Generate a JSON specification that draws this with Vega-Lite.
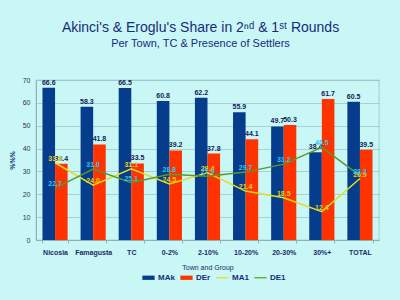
{
  "$schema": "https://vega.github.io/schema/vega-lite/v6.json",
  "width": 343,
  "height": 160,
  "autosize": "none",
  "padding": {"left": 36, "top": 80, "right": 21, "bottom": 60},
  "background": "#c8f7f6",
  "title": {
    "text": "Akinci's & Eroglu's Share in 2ⁿᵈ & 1ˢᵗ Rounds",
    "subtitle": "Per Town, TC & Presence of Settlers",
    "anchor": "middle",
    "frame": "group",
    "dx": -7,
    "offset": 27,
    "font": "Liberation Sans",
    "fontSize": 14,
    "fontWeight": "normal",
    "color": "#1a2a7a",
    "subtitleFont": "Liberation Sans",
    "subtitleFontSize": 11,
    "subtitleColor": "#1a2a7a",
    "subtitlePadding": 3
  },
  "config": {
    "view": {"stroke": "#8fb0b8", "strokeWidth": 0.6},
    "font": "Liberation Sans",
    "axis": {"labelFont": "Liberation Sans", "titleFont": "Liberation Sans"}
  },
  "data": {
    "values": [
      {"g": "Nicosia", "s": "MAk", "v": 66.6},
      {"g": "Famagusta", "s": "MAk", "v": 58.3},
      {"g": "TC", "s": "MAk", "v": 66.5},
      {"g": "0-2%", "s": "MAk", "v": 60.8},
      {"g": "2-10%", "s": "MAk", "v": 62.2},
      {"g": "10-20%", "s": "MAk", "v": 55.9},
      {"g": "20-30%", "s": "MAk", "v": 49.7},
      {"g": "30%+", "s": "MAk", "v": 38.4},
      {"g": "TOTAL", "s": "MAk", "v": 60.5},
      {"g": "Nicosia", "s": "DEr", "v": 33.4},
      {"g": "Famagusta", "s": "DEr", "v": 41.8},
      {"g": "TC", "s": "DEr", "v": 33.5},
      {"g": "0-2%", "s": "DEr", "v": 39.2},
      {"g": "2-10%", "s": "DEr", "v": 37.8},
      {"g": "10-20%", "s": "DEr", "v": 44.1},
      {"g": "20-30%", "s": "DEr", "v": 50.3},
      {"g": "30%+", "s": "DEr", "v": 61.7},
      {"g": "TOTAL", "s": "DEr", "v": 39.5},
      {"g": "Nicosia", "s": "MA1", "v": 33.8},
      {"g": "Famagusta", "s": "MA1", "v": 24.0},
      {"g": "TC", "s": "MA1", "v": 31.1},
      {"g": "0-2%", "s": "MA1", "v": 24.5},
      {"g": "2-10%", "s": "MA1", "v": 29.4},
      {"g": "10-20%", "s": "MA1", "v": 21.4},
      {"g": "20-30%", "s": "MA1", "v": 18.5},
      {"g": "30%+", "s": "MA1", "v": 12.4},
      {"g": "TOTAL", "s": "MA1", "v": 26.9},
      {"g": "Nicosia", "s": "DE1", "v": 22.7},
      {"g": "Famagusta", "s": "DE1", "v": 31.0},
      {"g": "TC", "s": "DE1", "v": 25.1},
      {"g": "0-2%", "s": "DE1", "v": 28.8},
      {"g": "2-10%", "s": "DE1", "v": 27.9},
      {"g": "10-20%", "s": "DE1", "v": 29.7},
      {"g": "20-30%", "s": "DE1", "v": 33.2},
      {"g": "30%+", "s": "DE1", "v": 40.5},
      {"g": "TOTAL", "s": "DE1", "v": 28.2}
    ]
  },
  "encoding": {
    "x": {
      "field": "g",
      "type": "nominal",
      "sort": ["Nicosia", "Famagusta", "TC", "0-2%", "2-10%", "10-20%", "20-30%", "30%+", "TOTAL"],
      "scale": {"paddingInner": 0.34, "paddingOuter": 0.17},
      "axis": {
        "title": "Town and Group",
        "titleFontSize": 7,
        "titleFontWeight": "normal",
        "titleColor": "#1a2a6a",
        "titlePadding": 8,
        "labelAngle": 0,
        "labelFontSize": 7,
        "labelFontWeight": "bold",
        "labelColor": "#1a2a6a",
        "labelPadding": 5,
        "tickBand": "extent",
        "tickSize": 3,
        "tickColor": "#8fb0b8",
        "domainColor": "#8fb0b8",
        "grid": false
      }
    },
    "y": {
      "field": "v",
      "type": "quantitative",
      "scale": {"domain": [0, 70], "nice": false},
      "axis": {
        "title": "%%%",
        "titleFontSize": 7,
        "titleFontWeight": "bold",
        "titleColor": "#1a2a6a",
        "titlePadding": 7,
        "values": [0, 10, 20, 30, 40, 50, 60, 70],
        "labelFontSize": 7,
        "labelColor": "#333344",
        "labelPadding": 6,
        "ticks": false,
        "domainColor": "#8fb0b8",
        "gridColor": "#8fb8c0",
        "gridWidth": 0.6
      }
    }
  },
  "layer": [
    {
      "transform": [{"filter": "datum.s === 'MAk' || datum.s === 'DEr'"}],
      "mark": {"type": "bar"},
      "encoding": {
        "xOffset": {"field": "s", "type": "nominal", "sort": ["MAk", "DEr"], "scale": {"paddingInner": 0}},
        "color": {
          "field": "s",
          "type": "nominal",
          "scale": {"domain": ["MAk", "DEr", "MA1", "DE1"], "range": ["#063c8c", "#ff3300", "#e6dc1e", "#5a9a2a"]},
          "legend": {
            "title": null,
            "orient": "none",
            "direction": "horizontal",
            "legendX": 106,
            "legendY": 191,
            "labelFontSize": 8,
            "labelFontWeight": "bold",
            "labelColor": "#1a2a7a",
            "symbolSize": 150,
            "columnPadding": 5,
            "labelOffset": 3,
            "symbolStrokeWidth": 0,
            "encode": {
              "symbols": {
                "update": {
                  "shape": [
                    {"test": "datum.value === 'MA1' || datum.value === 'DE1'", "value": "M-1,-0.1H1V0.1H-1Z"},
                    {"value": "M-1,-0.35H1V0.35H-1Z"}
                  ],
                  "fill": [
                    {"test": "datum.value === 'MA1'", "value": "#eef08a"},
                    {"test": "datum.value === 'DE1'", "value": "#8cc87a"},
                    {"test": "datum.value === 'MAk'", "value": "#063c8c"},
                    {"value": "#ff3300"}
                  ]
                }
              }
            }
          }
        }
      }
    },
    {
      "transform": [{"filter": "datum.s === 'MAk' || datum.s === 'DEr'"}],
      "mark": {"type": "text", "dy": -5, "fontSize": 7, "fontWeight": "bold", "fill": "#16205a"},
      "encoding": {
        "xOffset": {"field": "s", "type": "nominal", "sort": ["MAk", "DEr"], "scale": {"paddingInner": 0}},
        "text": {"field": "v", "type": "quantitative", "format": ".1f"}
      }
    },
    {
      "transform": [{"filter": "datum.s === 'MA1' || datum.s === 'DE1'"}],
      "mark": {"type": "line", "strokeWidth": 1.5},
      "encoding": {
        "color": {"field": "s", "type": "nominal"},
        "detail": {"field": "s"}
      }
    },
    {
      "transform": [{"filter": "datum.s === 'MA1' || datum.s === 'DE1'"}],
      "mark": {"type": "text", "dy": -4, "fontSize": 7, "fontWeight": "bold"},
      "encoding": {
        "text": {"field": "v", "type": "quantitative", "format": ".1f"},
        "fill": {"condition": {"test": "datum.s === 'DE1'", "value": "#2ec4f0"}, "value": "#e8d21a"}
      }
    }
  ]
}
